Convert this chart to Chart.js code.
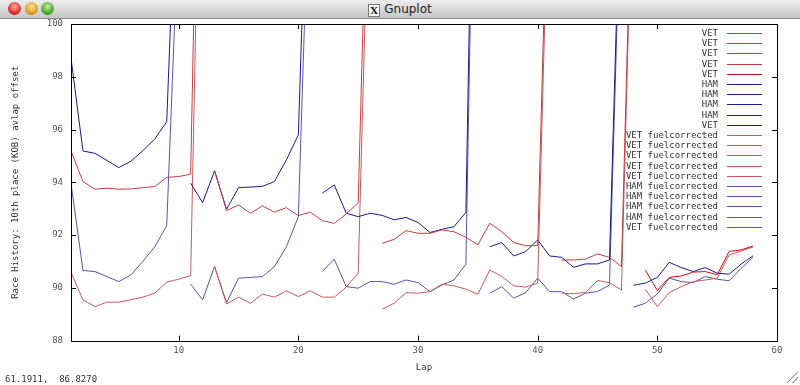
<!DOCTYPE html>
<html>
<head>
<meta charset="utf-8">
<script src="https://cdn.jsdelivr.net/npm/chart.js@4.4.1/dist/chart.umd.min.js"></script>
<style>
  html, body { margin: 0; padding: 0; background: #fff; }
  #wrap { position: relative; width: 800px; height: 385px; overflow: hidden; background: #fff; }
  #bar { position: absolute; left: 0; top: 0; width: 800px; height: 18px;
         background: linear-gradient(#ededed, #c6c6c6); border-bottom: 1px solid #8a8a8a; z-index: 2; }
  .dot { position: absolute; top: 2px; width: 13px; height: 13px; border-radius: 50%; }
  #bar .r { left: 8px;  background: radial-gradient(circle at 50% 35%, #ffb0a8, #d8322a 60%, #9a1a12); }
  #bar .y { left: 25px; background: radial-gradient(circle at 50% 35%, #ffe6a0, #e0a020 60%, #a06a10); }
  #bar .g { left: 41px; background: radial-gradient(circle at 50% 35%, #c8f0a0, #4aa82a 60%, #2a6a14); }
  #title { position: absolute; top: 2px; left: 0; width: 800px; text-align: center;
           font: 12px "DejaVu Sans", sans-serif; color: #222; }
  #title .x { display: inline-block; width: 10px; height: 11px; line-height: 11px; font: bold 10px "DejaVu Serif", serif;
              border: 1px solid #777; background: #fff; margin-right: 4px; vertical-align: -1px; }
  #coords { position: absolute; left: 5px; top: 374px; font: 9px "DejaVu Sans Mono", monospace; color: #333; white-space: pre; }
  #grip { position: absolute; right: 2px; bottom: 2px; width: 11px; height: 11px;
          background: linear-gradient(135deg, transparent 45%, #999 46%, #999 52%, transparent 53%, transparent 70%, #999 71%, #999 77%, transparent 78%); }
  canvas { position: absolute; left: 0; top: 0; }
</style>
</head>
<body>
<div id="wrap">
  <canvas id="chart" width="800" height="385"></canvas>
  <div id="bar">
    <div class="dot r"></div><div class="dot y"></div><div class="dot g"></div>
    <div id="title"><span class="x">X</span>Gnuplot</div>
  </div>
  <div id="coords">61.1911,  86.8270</div>
  <div id="grip"></div>
</div>
<script>
// ---------- data (lap times per stint) ----------
var xTicks = [10, 20, 30, 40, 50, 60];
var yTicks = [88, 90, 92, 94, 96, 98, 100];

var vetStart = [1, 13, 27, 42, 49];
var hamStart = [1, 11, 22, 36, 48];

var vetRaw1 = [95.19, 94.03, 93.74, 93.78, 93.74, 93.75, 93.80, 93.84, 94.19, 94.22, 94.31, 117];
var vetRaw2 = [94.44, 92.93, 93.14, 92.83, 93.11, 92.87, 93.04, 92.74, 92.87, 92.55, 92.45, 92.80, 93.23, 110];
var vetRaw3 = [91.69, 91.84, 92.17, 92.07, 92.07, 92.20, 92.13, 91.92, 91.63, 92.45, 92.13, 91.72, 91.60, 91.60, 108.4];
var vetRaw4 = [91.06, 91.06, 91.09, 91.29, 91.16, 90.81, 107.8];
var vetRaw5 = [90.68, 89.90, 90.40, 90.45, 90.60, 90.62, 90.50, 91.38, 91.44, 91.59];

var hamRaw1 = [98.70, 95.19, 95.10, 94.83, 94.56, 94.80, 95.20, 95.64, 96.30, 108];
var hamRaw2 = [93.97, 93.23, 94.44, 92.98, 93.80, 93.82, 93.85, 94.03, 94.85, 95.80, 110];
var hamRaw3 = [93.59, 93.90, 92.83, 92.70, 92.83, 92.75, 92.58, 92.67, 92.48, 92.10, 92.22, 92.32, 92.86, 118];
var hamRaw4 = [91.56, 91.72, 91.21, 91.38, 91.82, 91.21, 91.16, 90.78, 90.91, 90.91, 91.06, 106.7];
var hamRaw5 = [90.10, 90.18, 90.40, 90.97, 90.77, 90.62, 90.77, 90.56, 90.52, 90.90, 91.22];

var vetFuel1 = [90.59, 89.55, 89.29, 89.46, 89.46, 89.55, 89.65, 89.80, 90.22, 90.33, 90.47, 113];
var vetFuel2 = [90.81, 89.39, 89.65, 89.42, 89.77, 89.65, 89.89, 89.67, 89.89, 89.65, 89.65, 90.03, 90.56, 107.4];
var vetFuel3 = [89.19, 89.42, 89.82, 89.80, 89.86, 90.14, 90.08, 89.95, 89.76, 90.68, 90.43, 90.08, 90.03, 90.18, 107];
var vetFuel4 = [89.80, 89.78, 89.83, 90.28, 90.20, 89.92, 107];
var vetFuel5 = [89.95, 89.29, 89.82, 90.05, 90.24, 90.30, 90.37, 91.25, 91.40, 91.55];

var hamFuel1 = [93.97, 90.66, 90.62, 90.43, 90.24, 90.49, 91.00, 91.56, 92.36, 104];
var hamFuel2 = [90.14, 89.55, 90.81, 89.44, 90.37, 90.40, 90.43, 90.81, 91.56, 92.70, 107];
var hamFuel3 = [90.62, 91.09, 90.05, 89.99, 90.24, 90.24, 90.14, 90.30, 90.20, 89.86, 90.11, 90.30, 90.90, 116];
var hamFuel4 = [89.80, 90.05, 89.61, 89.82, 90.37, 89.86, 89.86, 89.58, 89.80, 89.86, 90.11, 105.8];
var hamFuel5 = [89.27, 89.42, 89.77, 90.37, 90.24, 90.20, 90.43, 90.33, 90.27, 90.74, 91.16];

// ---------- build datasets ----------
function pts(start, values) {
    return values.map(function (v, i) { return { x: start + i, y: v }; });
}
function line(label, color, start, values) {
    return {
        label: label,
        data: pts(start, values),
        borderColor: color,
        backgroundColor: color,
        borderWidth: 1,
        pointRadius: 0,
        tension: 0,
        fill: false
    };
}

var vetRaw = [vetRaw1, vetRaw2, vetRaw3, vetRaw4, vetRaw5];
var hamRaw = [hamRaw1, hamRaw2, hamRaw3, hamRaw4, hamRaw5];
var vetFuel = [vetFuel1, vetFuel2, vetFuel3, vetFuel4, vetFuel5];
var hamFuel = [hamFuel1, hamFuel2, hamFuel3, hamFuel4, hamFuel5];

var datasets = [];
vetRaw.forEach(function (s, i) { datasets.push(line('VET', i < 4 ? '#c04040' : '#cc1010', vetStart[i], s)); });
hamRaw.forEach(function (s, i) { datasets.push(line(i < 4 ? 'HAM' : 'VET', '#1a1a8c', hamStart[i], s)); });
vetFuel.forEach(function (s, i) { datasets.push(line('VET fuelcorrected', '#c85a5a', vetStart[i], s)); });
hamFuel.forEach(function (s, i) { datasets.push(line(i < 4 ? 'HAM fuelcorrected' : 'VET fuelcorrected', '#5656a8', hamStart[i], s)); });

// gnuplot style frame: border, inward mirrored ticks, key inside top right
var gnuplotFrame = {
    id: 'gnuplotFrame',
    afterDraw: function (chart) {
        var ctx = chart.ctx, a = chart.chartArea;
        var x = chart.scales.x, y = chart.scales.y;
        ctx.save();
        ctx.strokeStyle = '#000';
        ctx.lineWidth = 1;
        ctx.beginPath();
        xTicks.forEach(function (v) {
            var px = Math.round(x.getPixelForValue(v)) + 0.5;
            ctx.moveTo(px, a.bottom); ctx.lineTo(px, a.bottom - 5);
            ctx.moveTo(px, a.top); ctx.lineTo(px, a.top + 5);
        });
        yTicks.forEach(function (v) {
            var py = Math.round(y.getPixelForValue(v)) + 0.5;
            ctx.moveTo(a.left, py); ctx.lineTo(a.left + 5, py);
            ctx.moveTo(a.right, py); ctx.lineTo(a.right - 5, py);
        });
        ctx.stroke();
        ctx.strokeRect(Math.round(a.left) + 0.5, Math.round(a.top) + 0.5,
                       Math.round(a.right - a.left), Math.round(a.bottom - a.top));

        // key
        ctx.font = '9px "DejaVu Sans Mono", monospace';
        ctx.textAlign = 'right';
        ctx.textBaseline = 'middle';
        chart.data.datasets.forEach(function (ds, i) {
            var yy = Math.round(a.top + 9 + i * 10.2) + 0.5;
            ctx.fillStyle = '#333';
            ctx.fillText(ds.label, a.right - 59, yy);
            ctx.strokeStyle = ds.borderColor;
            ctx.beginPath();
            ctx.moveTo(a.right - 50, yy);
            ctx.lineTo(a.right - 15, yy);
            ctx.stroke();
        });
        ctx.restore();
    }
};

var tickFont = { family: '"DejaVu Sans Mono", monospace', size: 9 };

var ctx = document.getElementById('chart');
var chartGraph = new Chart(ctx, {
    type: 'line',
    data: { datasets: datasets },
    options: {
        responsive: false,
        animation: false,
        layout: { padding: { top: 24, right: 23, left: 0, bottom: 0 } },
        plugins: { legend: { display: false }, tooltip: { enabled: false } },
        scales: {
            x: {
                type: 'linear',
                min: 1, max: 60,
                afterBuildTicks: function (s) { s.ticks = xTicks.map(function (v) { return { value: v }; }); },
                afterFit: function (s) { s.height = 44.3; },
                grid: { display: false, drawTicks: false },
                border: { display: false },
                ticks: { font: tickFont, color: '#555', padding: 5, maxRotation: 0 },
                title: { display: true, text: 'Lap', font: tickFont, color: '#333', padding: { top: 0, bottom: 12 } }
            },
            y: {
                min: 88, max: 100,
                afterBuildTicks: function (s) { s.ticks = yTicks.map(function (v) { return { value: v }; }); },
                afterFit: function (s) { s.width = 71; },
                grid: { display: false, drawTicks: false },
                border: { display: false },
                ticks: { font: tickFont, color: '#555', padding: 8 },
                title: { display: true, text: 'Race History: 10th place (KOB) avlap offset', font: tickFont, color: '#333', padding: { top: 10, bottom: 0 } }
            }
        }
    },
    plugins: [gnuplotFrame]
});
</script>
</body>
</html>
